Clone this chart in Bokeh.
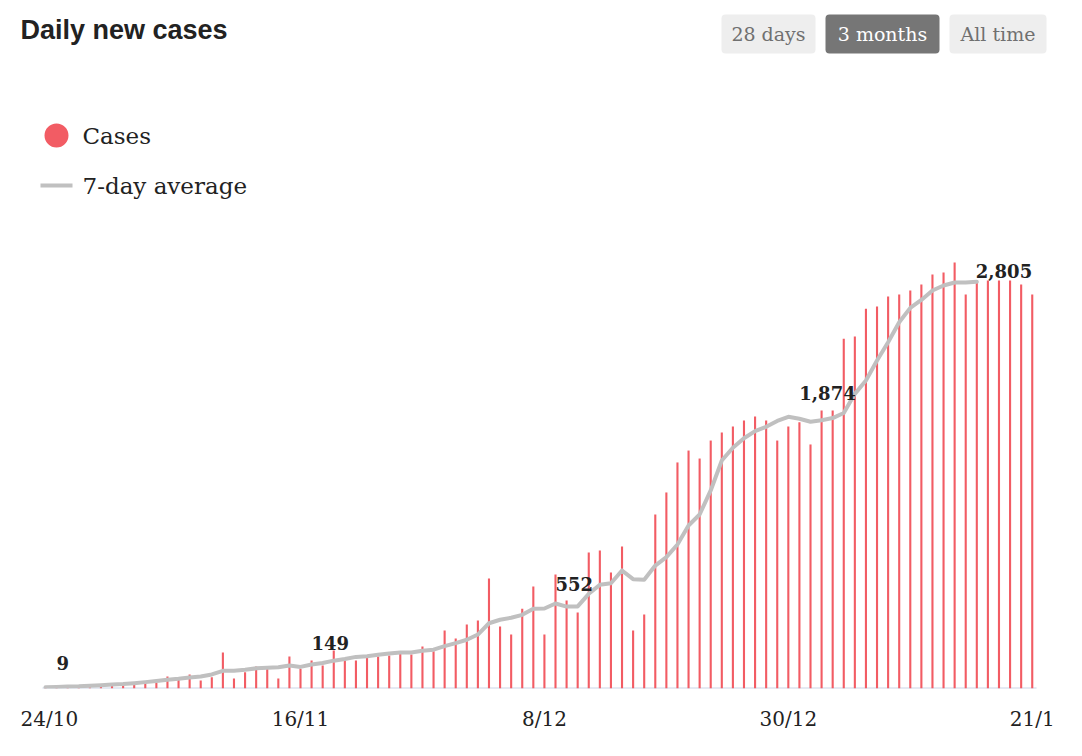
from bokeh.plotting import figure
from bokeh.models import ColumnDataSource, FixedTicker, Range1d, BoxAnnotation, Spacer
from bokeh.layouts import row
from bokeh.core.properties import value
from bokeh.embed import file_html
from bokeh.resources import INLINE

# ---- data -------------------------------------------------------------
tick_days = [0, 23, 45, 67, 89]
tick_labels = ["24/10", "16/11", "8/12", "30/12", "21/1"]

# daily new cases, 24 Oct .. 21 Jan
daily_cases = [
    4, 6, 7, 8, 9, 10, 21, 25, 28, 39,
    39, 83, 60, 97, 55, 78, 248, 69, 112, 152,
    136, 69, 221, 136, 193, 159, 262, 193, 193, 216,
    221, 228, 239, 234, 290, 257, 400, 345, 441, 469,
    759, 428, 372, 550, 703, 372, 786, 607, 524, 938,
    952, 800, 979, 400, 510, 1200, 1352, 1559, 1641, 1586,
    1710, 1766, 1807, 1848, 1876, 1848, 1710, 1807, 1837, 1683,
    1917, 1917, 2412, 2428, 2619, 2634, 2703, 2717, 2745, 2786,
    2855, 2869, 2938, 2717, 2814, 2814, 2814, 2814, 2786, 2717,
]

# 7-day average (available up to 16 Jan)
avg_cases = [
    9, 11, 13, 15, 19, 23, 27, 31, 37, 44,
    52, 60, 67, 76, 83, 97, 122, 123, 129, 139,
    143, 146, 158, 149, 165, 176, 192, 204, 218, 223,
    233, 242, 249, 248, 260, 268, 292, 313, 336, 372,
    450, 474, 488, 508, 550, 552, 586, 565, 566, 653,
    715, 726, 814, 754, 750, 848, 906, 993, 1124, 1200,
    1366, 1572, 1660, 1726, 1775, 1805, 1845, 1874, 1860, 1840,
    1850, 1865, 1900, 2032, 2124, 2262, 2388, 2526, 2625, 2680,
    2745, 2779, 2800, 2800, 2805,
]

label_days = [0, 23, 45, 67, 84]

legend_labels = ["Cases", "7-day average"]
button_labels = ["28 days", "3 months", "All time"]
active_button = "3 months"

RED = "#f25c64"
GREY = "#c0c0c0"
INK = "#222222"
SERIF = value("DejaVu Serif")

days = list(range(len(daily_cases)))
avg_days = list(range(len(avg_cases)))

# One figure whose frame fills the canvas above the date axis.
# Data uses day index / case count; the header furniture uses a
# second pair of ranges expressed in page pixels.
PX_PER_DAY = 11.087
PX_PER_CASE = 0.145
CANVAS_W, CANVAS_H, AXIS_H = 1062, 756, 68
LEFT_PAGE = 20          # canvas starts 20px into the page
DAY0_PAGE = 45          # page x of the first day

x_start = (LEFT_PAGE - DAY0_PAGE) / PX_PER_DAY
x_end = x_start + CANVAS_W / PX_PER_DAY
y_end = (CANVAS_H - AXIS_H) / PX_PER_CASE

p = figure(width=CANVAS_W, height=CANVAS_H,
           x_range=Range1d(x_start, x_end), y_range=Range1d(0, y_end),
           x_axis_location="below", y_axis_location=None, toolbar_location=None,
           output_backend="svg", min_border_top=0, min_border_bottom=AXIS_H,
           min_border_left=0, min_border_right=0)
p.extra_x_ranges = {"px": Range1d(LEFT_PAGE, LEFT_PAGE + CANVAS_W)}
p.extra_y_ranges = {"px": Range1d(CANVAS_H - AXIS_H, 0)}
p.grid.visible = False
p.outline_line_color = None

# ---- header: title, range buttons, legend -----------------------------
PX = dict(x_range_name="px", y_range_name="px")

p.text(x=[20], y=[29], text=["Daily new cases"], text_font=value("Liberation Sans"),
       text_font_style="bold", text_font_size="27px", text_color=INK,
       text_baseline="middle", text_align="left", **PX)

button_boxes = [(721, 815), (825, 939), (949, 1046)]
btn_x, btn_col = [], []
for label, (l, r) in zip(button_labels, button_boxes):
    active = label == active_button
    p.add_layout(BoxAnnotation(left=l, right=r, top=14, bottom=53,
                               fill_color="#767676" if active else "#eeeeee",
                               fill_alpha=1, line_color=None, border_radius=4,
                               level="underlay", **PX))
    btn_x.append((l + r) / 2)
    btn_col.append("#ffffff" if active else "#707070")
p.text(x=btn_x, y=[33] * 3, text=button_labels, text_color=btn_col,
       text_font=SERIF, text_font_size="19px", text_align="center",
       text_baseline="middle", **PX)

p.scatter(x=[56], y=[135], size=24, marker="circle", fill_color=RED, line_color=None, **PX)
p.line(x=[40, 72], y=[185, 185], line_width=4, line_color=GREY, **PX)
p.text(x=[82, 82], y=[135, 185], text=legend_labels, text_color=INK,
       text_font=SERIF, text_font_size="23px", text_baseline="middle", **PX)

# ---- cases and 7-day average -----------------------------------------
p.segment(x0=[days[0] - 0.27], x1=[days[-1] + 0.39], y0=[0], y1=[0],
          line_color="#cbd5e8", line_width=2)
p.vbar(x=days, top=daily_cases, bottom=0, width=0.19, fill_color=RED, line_color=None)
p.line(x=avg_days, y=avg_cases, line_width=4, line_color=GREY,
       line_join="round", line_cap="round")

last_day = avg_days[-1]
lab = ColumnDataSource(dict(
    x=label_days,
    y=[avg_cases[d] for d in label_days],
    text=[f"{avg_cases[d]:,}" for d in label_days],
    xo=[-1 if d == last_day else 11 for d in label_days],
    yo=[-11 if d == last_day else -24 for d in label_days],
))
p.text(x="x", y="y", text="text", source=lab, x_offset="xo", y_offset="yo",
       text_font=SERIF, text_font_style="bold", text_font_size="18px",
       text_color=INK, text_baseline="middle", text_align="left")

ax = p.xaxis[0]
ax.ticker = FixedTicker(ticks=tick_days)
ax.major_label_overrides = {d: t for d, t in zip(tick_days, tick_labels)}
ax.axis_line_color = None
ax.major_tick_line_color = None
ax.minor_tick_line_color = None
ax.major_label_standoff = 12
ax.major_label_text_font = "DejaVu Serif"
ax.major_label_text_font_size = "20px"
ax.major_label_text_color = INK

layout = row(Spacer(width=LEFT_PAGE, height=CANVAS_H), p)

open("out.html", "w").write(file_html(layout, INLINE))
